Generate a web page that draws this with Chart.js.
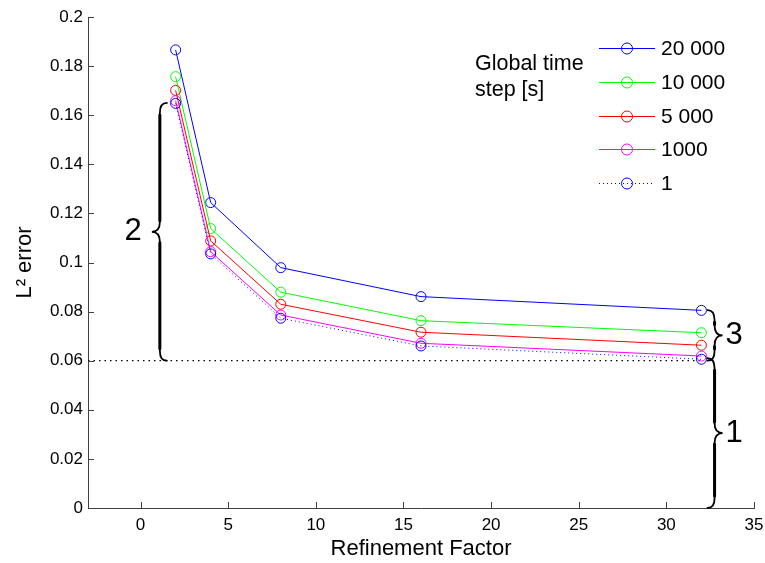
<!DOCTYPE html>
<html>
<head>
<meta charset="utf-8">
<title>L2 error vs refinement factor</title>
<script src="https://cdn.jsdelivr.net/npm/chart.js@4.4.1/dist/chart.umd.min.js"></script>
<style>
  body { margin: 0; background: #fff; }
  canvas { display: block; }
</style>
</head>
<body>
<canvas id="canvas" width="765" height="563"></canvas>
<script>
// refinement factors on the x axis
var factors = [2, 4, 8, 16, 32];

// L2 error per global time step [s]
var err20000 = [0.1866, 0.1244, 0.0979, 0.0861, 0.0805];
var err10000 = [0.1757, 0.1138, 0.0879, 0.0763, 0.0714];
var err5000 = [0.1701, 0.1088, 0.0830, 0.0716, 0.0663];
var err1000 = [0.1659, 0.1044, 0.0786, 0.0671, 0.0619];
var err1 = [0.1648, 0.1035, 0.0773, 0.0660, 0.0606];

var seriesLabels = ["20 000", "10 000", "5 000", "1000", "1"];
var seriesColors = ["#0000ff", "#00ff00", "#ff0000", "#ff00ff", "#0000ff"];

var xTicks = [0, 5, 10, 15, 20, 25, 30, 35];
var yTicks = [0, 0.02, 0.04, 0.06, 0.08, 0.1, 0.12, 0.14, 0.16, 0.18, 0.2];

// dotted reference level
var refX = [-3, 32];
var refY = 0.06;

// curly braces with their labels
var braceLabels = ["2", "3", "1"];
var braceX = [1.1, 32.75, 32.75];
var braceFrom = [0.06, 0.06, 0];
var braceTo = [0.165, 0.0806, 0.061];
var braceSide = [-1, 1, 1]; // -1 = tip points left, 1 = tip points right

var axisColor = "#404040";
var fontFamily = "'Liberation Sans', Arial, Helvetica, sans-serif";
Chart.defaults.font.family = fontFamily;
Chart.defaults.color = "#000000";

function toPoints(ys) {
    return factors.map(function(f, i) {
        return { x: f, y: ys[i] };
    });
}

var allSeries = [err20000, err10000, err5000, err1000, err1];
var datasets = allSeries.map(function(ys, i) {
    return {
        label: seriesLabels[i],
        data: toPoints(ys),
        borderColor: seriesColors[i],
        backgroundColor: "rgba(0,0,0,0)",
        borderWidth: 1,
        borderDash: i === 4 ? [1, 3] : [],
        pointRadius: 5,
        pointBorderWidth: 1,
        pointBorderColor: seriesColors[i],
        pointBackgroundColor: "rgba(0,0,0,0)",
        order: allSeries.length - i,
        tension: 0
    };
});

datasets.push({
    label: "ref",
    data: refX.map(function(x) { return { x: x, y: refY }; }),
    borderColor: "#000000",
    borderWidth: 1.2,
    borderDash: [1.5, 4],
    pointRadius: 0,
    order: 10
});

function drawBrace(ctx, xs, y0, y1, dir) {
    var e = -dir * 7, t = dir * 8, r = 10, m = (y0 + y1) / 2;
    ctx.lineWidth = 1.8;
    ctx.beginPath();
    ctx.moveTo(xs + e, y0);
    ctx.quadraticCurveTo(xs, y0, xs, y0 + r);
    ctx.lineTo(xs, m - r);
    ctx.quadraticCurveTo(xs, m, xs + t, m);
    ctx.quadraticCurveTo(xs, m, xs, m + r);
    ctx.lineTo(xs, y1 - r);
    ctx.quadraticCurveTo(xs, y1, xs + e, y1);
    ctx.stroke();
    // thicker spine like a typeset brace
    ctx.lineWidth = 3;
    ctx.beginPath();
    ctx.moveTo(xs, y0 + r + 2);
    ctx.lineTo(xs, m - r - 1);
    ctx.moveTo(xs, m + r + 1);
    ctx.lineTo(xs, y1 - r - 2);
    ctx.stroke();
}

const decorations = {
    id: "decorations",
    afterDatasetsDraw(chart) {
        const ctx = chart.ctx;
        const xs = chart.scales.x, ys = chart.scales.y;
        const area = chart.chartArea;
        ctx.save();

        // inward tick marks, matlab style
        ctx.strokeStyle = axisColor;
        ctx.lineWidth = 1;
        ctx.setLineDash([]);
        ctx.beginPath();
        xTicks.forEach(function(v) {
            const px = Math.round(xs.getPixelForValue(v)) + 0.5;
            ctx.moveTo(px, area.bottom);
            ctx.lineTo(px, area.bottom - 6);
        });
        yTicks.forEach(function(v) {
            const py = Math.round(ys.getPixelForValue(v)) + 0.5;
            ctx.moveTo(area.left, py);
            ctx.lineTo(area.left + 6, py);
        });
        ctx.stroke();

        // braces
        ctx.strokeStyle = "#000000";
        ctx.lineCap = "round";
        ctx.fillStyle = "#000000";
        ctx.font = "31px " + fontFamily;
        ctx.textBaseline = "middle";
        braceLabels.forEach(function(lbl, i) {
            const bx = xs.getPixelForValue(braceX[i]);
            const top = ys.getPixelForValue(braceTo[i]);
            const bot = ys.getPixelForValue(braceFrom[i]);
            drawBrace(ctx, bx, top, bot, braceSide[i]);
            const mid = (top + bot) / 2;
            if (braceSide[i] < 0) {
                ctx.textAlign = "right";
                ctx.fillText(lbl, bx - 18, mid);
            } else {
                ctx.textAlign = "left";
                ctx.fillText(lbl, bx + 11, mid);
            }
        });

        // legend with title on its left
        const legX = area.right - 155, legY = area.top + 31, step = 33.8;
        ctx.font = "21.5px " + fontFamily;
        ctx.textAlign = "left";
        ctx.textBaseline = "alphabetic";
        ctx.fillText("Global time", area.right - 279, area.top + 52.5);
        ctx.fillText("step [s]", area.right - 279, area.top + 78.5);
        ctx.font = "21px " + fontFamily;
        ctx.textBaseline = "middle";
        ctx.lineCap = "butt";
        for (let i = 0; i < seriesLabels.length; i++) {
            const ds = chart.data.datasets[i];
            const y = Math.round(legY + i * step) + 0.5;
            ctx.strokeStyle = ds.borderColor;
            ctx.lineWidth = 1;
            ctx.setLineDash(ds.borderDash);
            ctx.beginPath();
            ctx.moveTo(legX, y);
            ctx.lineTo(legX + 56, y);
            ctx.stroke();
            ctx.setLineDash([]);
            ctx.beginPath();
            ctx.arc(legX + 28, y, 5.5, 0, 2 * Math.PI);
            ctx.stroke();
            ctx.fillStyle = "#000000";
            ctx.fillText(ds.label, legX + 62, y + 1);
        }
        ctx.restore();
    }
};

const canvas = document.getElementById("canvas");
const ctx = canvas.getContext("2d");
new Chart(ctx, {
    type: "line",
    data: { datasets: datasets },
    options: {
        responsive: false,
        animation: false,
        layout: { padding: { top: 17, right: 11, left: 0, bottom: 0 } },
        plugins: {
            legend: { display: false },
            tooltip: { enabled: false }
        },
        scales: {
            x: {
                type: "linear",
                min: -3,
                max: 35,
                afterBuildTicks: function(scale) {
                    scale.ticks = xTicks.map(function(v) { return { value: v }; });
                },
                afterFit: function(scale) {
                    scale.height = 55;
                    scale.paddingLeft = 0;
                    scale.paddingRight = 0;
                },
                grid: { display: false, drawTicks: false },
                border: { display: true, color: axisColor, width: 1 },
                ticks: {
                    font: { size: 17 },
                    padding: 7,
                    color: "#000000",
                    maxRotation: 0,
                    callback: function(v) { return String(v); }
                },
                title: {
                    display: true,
                    text: "Refinement Factor",
                    font: { size: 22 },
                    padding: { top: 0, bottom: 1 }
                }
            },
            y: {
                type: "linear",
                min: 0,
                max: 0.2,
                afterBuildTicks: function(scale) {
                    scale.ticks = yTicks.map(function(v) { return { value: v }; });
                },
                afterFit: function(scale) {
                    scale.width = 88;
                    scale.paddingTop = 0;
                    scale.paddingBottom = 0;
                },
                grid: { display: false, drawTicks: false },
                border: { display: true, color: axisColor, width: 1 },
                ticks: {
                    font: { size: 17 },
                    padding: 5,
                    color: "#000000",
                    callback: function(v) { return String(v); }
                },
                title: {
                    display: true,
                    text: "L\u00b2 error",
                    font: { size: 22 },
                    padding: { top: 12, bottom: 0 }
                }
            }
        }
    },
    plugins: [decorations]
});
</script>
</body>
</html>
